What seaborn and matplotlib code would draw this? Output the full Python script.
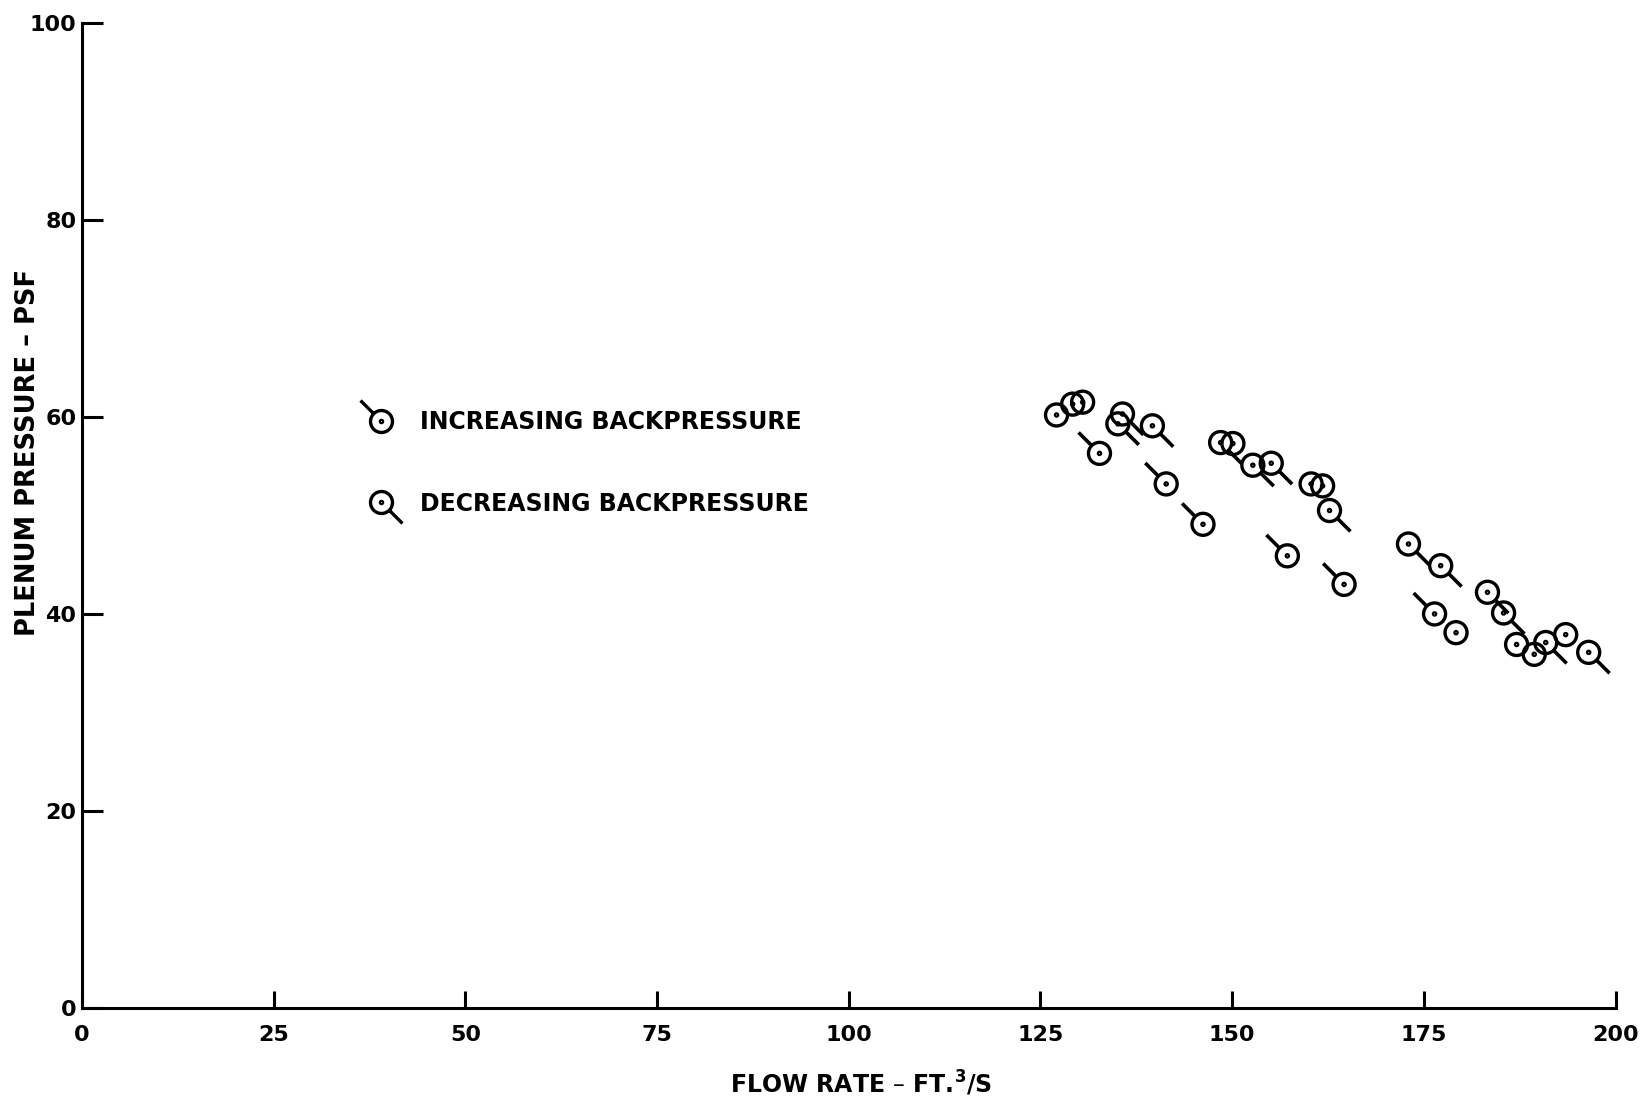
import matplotlib
matplotlib.use('Agg')
import matplotlib.pyplot as plt
from matplotlib.path import Path
from matplotlib.lines import Line2D
import seaborn as sns
import pandas as pd

sns.set_style("ticks")
plt.rcParams['font.family'] = ['DejaVu Sans']
plt.rcParams['font.weight'] = 'bold'
plt.rcParams['mathtext.default'] = 'bf'
plt.rcParams['text.color'] = 'black'
plt.rcParams['axes.labelcolor'] = 'black'

# datos (ft3/s, psf)
inc_flow = [132.7, 141.4, 146.2, 157.2, 164.6, 176.4]
inc_pres = [56.3, 53.2, 49.1, 45.9, 43.0, 40.0]

dec_flow = [135.1, 135.7, 139.6, 148.5, 152.7, 155.1, 162.7, 173.0, 177.2,
            183.3, 185.4, 190.9, 196.5]
dec_pres = [59.3, 60.3, 59.1, 57.4, 55.1, 55.3, 50.5, 47.1, 44.9,
            42.2, 40.1, 37.1, 36.1]

# puntos sin cola visible
plain_flow = [127.1, 129.2, 130.5, 150.1, 160.3, 161.8, 179.2, 187.1, 189.4, 193.5]
plain_pres = [60.2, 61.3, 61.5, 57.3, 53.2, 53.0, 38.1, 36.9, 35.9, 37.9]

x_ticks = [0, 25, 50, 75, 100, 125, 150, 175, 200]
y_ticks = [0, 20, 40, 60, 80, 100]

df = pd.DataFrame({
    'flow': inc_flow + dec_flow + plain_flow,
    'pressure': inc_pres + dec_pres + plain_pres,
    'trend': ['increasing'] * len(inc_flow) + ['decreasing'] * len(dec_flow)
             + ['none'] * len(plain_flow),
})

# marcadores: circulo con punto central + cola
ring = Path.make_compound_path(Path.circle((0, 0), 1.0), Path.circle((0, 0), 0.1))
tail_up = Path([(-0.72, 0.72), (-1.91, 1.91)], [Path.MOVETO, Path.LINETO])
tail_down = Path([(0.72, -0.72), (1.91, -1.91)], [Path.MOVETO, Path.LINETO])
leg_up = Path.make_compound_path(ring, tail_up)
leg_down = Path.make_compound_path(ring, tail_down)

s_ring = 251
s_tail = 906
lw = 2.4

fig = plt.figure(figsize=(16.49, 11.08), dpi=100)
ax = fig.add_axes([0.0497, 0.0903, 0.930, 0.889])

sns.scatterplot(data=df, x='flow', y='pressure', marker=ring, s=s_ring,
                facecolor='none', edgecolor='black', linewidth=lw,
                legend=False, ax=ax, zorder=3)
sns.scatterplot(data=df[df['trend'] == 'increasing'], x='flow', y='pressure',
                marker=tail_up, s=s_tail, facecolor='none', edgecolor='black',
                linewidth=lw + 0.2, legend=False, ax=ax, zorder=3)
sns.scatterplot(data=df[df['trend'] == 'decreasing'], x='flow', y='pressure',
                marker=tail_down, s=s_tail, facecolor='none', edgecolor='black',
                linewidth=lw + 0.2, legend=False, ax=ax, zorder=3)

ax.set_xlim(0, 200)
ax.set_ylim(0, 100)
ax.set_xticks(x_ticks)
ax.set_yticks(y_ticks)
sns.despine(ax=ax)
for side in ['left', 'bottom']:
    ax.spines[side].set_linewidth(2.2)
    ax.spines[side].set_color('black')
ax.tick_params(axis='y', direction='in', length=15, width=2.2, pad=4,
               labelsize=16, colors='black')
ax.tick_params(axis='x', direction='in', length=12, width=2.2, pad=12,
               labelsize=16, colors='black')

ax.set_xlabel('FLOW RATE – FT.$^{3}$/S', fontsize=17, fontweight='bold')
ax.set_ylabel('PLENUM PRESSURE – PSF', fontsize=18.5, fontweight='bold')
ax.xaxis.set_label_coords(0.508, -0.062)
ax.yaxis.set_label_coords(-0.027, 0.564)

handles = [
    Line2D([], [], linestyle='none', marker=leg_up, markersize=30.2,
           markerfacecolor='none', markeredgecolor='black', markeredgewidth=lw),
    Line2D([], [], linestyle='none', marker=leg_down, markersize=30.2,
           markerfacecolor='none', markeredgecolor='black', markeredgewidth=lw),
]
ax.legend(handles, ['INCREASING BACKPRESSURE', 'DECREASING BACKPRESSURE'],
          loc='upper left', bbox_to_anchor=(0.1825, 0.607), frameon=False,
          fontsize=17, handlelength=1.6, handletextpad=0.85, labelspacing=2.44,
          borderpad=0, borderaxespad=0)

fig.savefig('out.png', dpi=100)
plt.close()
